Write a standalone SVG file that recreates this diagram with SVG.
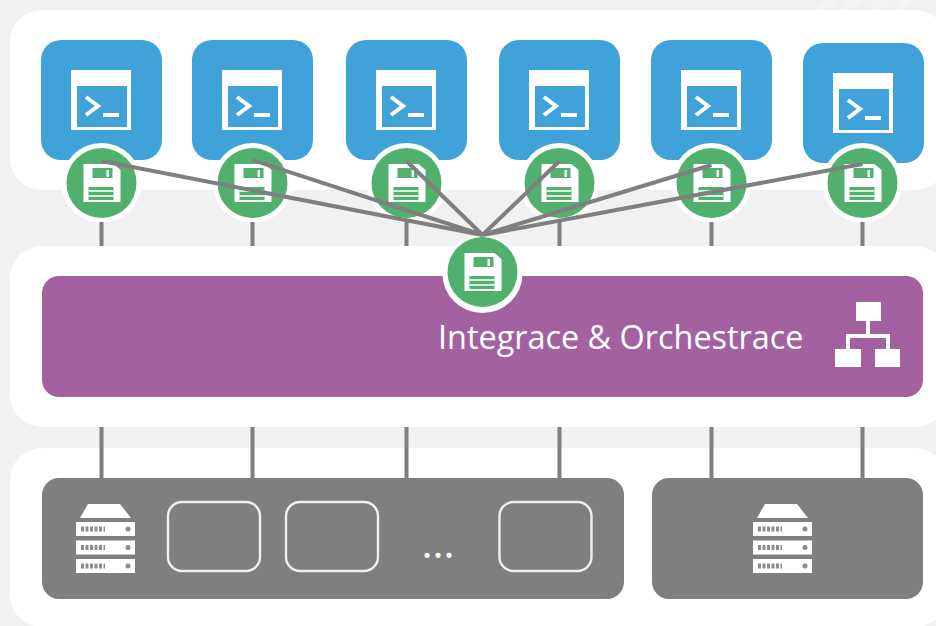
<svg xmlns="http://www.w3.org/2000/svg" width="936" height="626" viewBox="0 0 936 626">
<style>
.panel{fill:#fff}
.tile{fill:#3fa2d9}
.w{fill:#fff}
.halo{fill:#fff}
.disk{fill:#52b06e}
.conn{stroke:#7f7f7f;stroke-width:4;fill:none}
.gray{fill:#7f7f7f}
.slot{fill:none;stroke:#f0f0f0;stroke-width:2.400}
.label{font-family:"Open Sans","Liberation Sans",sans-serif;font-size:32.4px;fill:#fff}
.mark{stroke:#8c8c8c;stroke-width:5;stroke-dasharray:3 1.5;fill:none}
</style>
<defs>
<filter id="soft" x="-10%" y="-10%" width="120%" height="120%"><feGaussianBlur stdDeviation="0.6"/></filter>
<g id="term">
<rect class="tile" width="121" height="120" rx="20"/>
<rect class="w" x="30" y="30" width="60" height="60"/>
<g filter="url(#soft)">
<rect class="tile" x="36" y="46" width="50" height="41"/>
<path d="M45 57L57 66L45 75" fill="none" stroke="#fff" stroke-width="4"/>
<rect class="w" x="62" y="73" width="16" height="4"/>
</g>
</g>
<g id="floppy" filter="url(#soft)">
<path class="w" d="M-18-19H12L19-13V19H-18Z"/>
<rect class="disk" x="-9" y="-15" width="20" height="10"/>
<rect class="w" x="5" y="-13" width="2.500" height="7"/>
<rect class="disk" x="-13" y="4" width="25" height="13"/>
<path d="M-13 8H12M-13 13H12" stroke="#fff" stroke-width="1.500"/>
</g>
<g id="disk">
<circle class="halo" r="40"/>
<circle class="disk" r="35"/>
<use href="#floppy"/>
</g>
<g id="unit"><rect class="w" y="18" width="59" height="14"/><path class="mark" d="M5 25H29"/><circle cx="52" cy="25" r="2.500" fill="#8c8c8c"/></g>
<g id="rack" filter="url(#soft)">
<path class="w" d="M12 0H44L55 14H4Z"/>
<use href="#unit"/>
<use href="#unit" y="18.500"/>
<use href="#unit" y="37"/>
</g>
</defs>
<rect width="936" height="626" fill="#f1f1f1"/>
<path fill="#f4f4f4" d="M813 10L823 0H838L828 10ZM840 10L850 0H863L853 10ZM867 10L877 0H892L882 10ZM892 10L902 0H914L904 10Z"/>
<g id="panels">
<rect class="panel" x="10" y="10" width="937" height="180" rx="32"/>
<rect class="panel" x="10" y="246" width="937" height="181" rx="32"/>
<rect class="panel" x="10" y="448" width="937" height="179" rx="32"/>
</g>
<g id="node-tiles">
<use id="terminal-1" href="#term" x="41" y="40"/>
<use id="terminal-2" href="#term" x="192" y="40"/>
<use id="terminal-3" href="#term" x="346" y="40"/>
<use id="terminal-4" href="#term" x="499" y="40"/>
<use id="terminal-5" href="#term" x="651" y="40"/>
<use id="terminal-6" href="#term" x="803" y="43"/>
</g>
<g id="node-integration">
<rect x="42" y="276" width="881" height="121" rx="17" fill="#a4619f"/>
<text class="label" x="438" y="349">Integrace &amp; Orchestrace</text>
<g filter="url(#soft)">
<rect class="w" x="856" y="302" width="25" height="19"/>
<rect class="w" x="835" y="349" width="26" height="18"/>
<rect class="w" x="875" y="349" width="25" height="18"/>
<path d="M868 321V334M848 349V336H888V349" fill="none" stroke="#fff" stroke-width="4"/>
</g>
</g>
<g id="node-backend-a">
<rect class="gray" x="42" y="478" width="582" height="121" rx="17"/>
<use href="#rack" x="76" y="504"/>
<rect class="slot" x="168" y="502" width="92" height="69" rx="14"/>
<rect class="slot" x="286" y="502" width="92" height="69" rx="14"/>
<rect class="slot" x="499.500" y="502" width="92" height="69" rx="14"/>
<text x="438" y="558" text-anchor="middle" font-family="Open Sans, Liberation Sans, sans-serif" font-size="42" fill="#fff">...</text>
</g>
<g id="node-backend-b">
<rect class="gray" x="652" y="478" width="271" height="121" rx="17"/>
<use href="#rack" x="753" y="504"/>
</g>
<g id="node-disks">
<use id="disk-1" href="#disk" x="101.500" y="183"/>
<use id="disk-2" href="#disk" x="252.500" y="183"/>
<use id="disk-3" href="#disk" x="406.500" y="183"/>
<use id="disk-4" href="#disk" x="559.500" y="183"/>
<use id="disk-5" href="#disk" x="711.500" y="183"/>
<use id="disk-6" href="#disk" x="862.500" y="183"/>
</g>
<g id="node-hub">
<ellipse class="halo" cx="482.500" cy="274" rx="40" ry="39"/>
<circle class="disk" cx="482.500" cy="272" r="35"/>
<use href="#floppy" x="482.500" y="272"/>
</g>
<g id="connectors">
<path class="conn" d="M482.500 235L101.500 161M482.500 235L252.500 160M482.500 235L406.500 161M482.500 235L559.500 161M482.500 235L711.500 165M482.500 235L862.500 164"/>
<path class="conn" d="M101.500 222V246M252.500 222V246M406.500 222V246M559.500 222V246M711.500 222V246M862.500 222V246"/>
<path class="conn" d="M101.500 427V478M252.500 427V478M406.500 427V478M559.500 427V478M711.500 427V478M862.500 427V478"/>
</g>
</svg>
